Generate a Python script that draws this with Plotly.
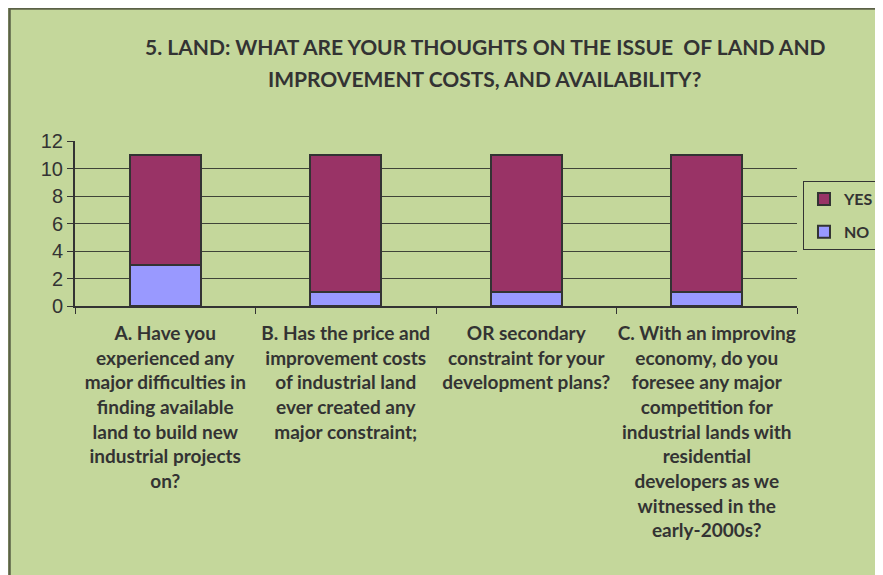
import plotly.graph_objects as go

# survey questions (x categories)
questions = ["A", "B", "OR", "C"]
question_text = [
    "A. Have you<br>experienced any<br>major difficulties in<br>finding available<br>land to build new<br>industrial projects<br>on?",
    "B. Has the price and<br>improvement costs<br>of industrial land<br>ever created any<br>major constraint;",
    "OR secondary<br>constraint for your<br>development plans?",
    "C. With an improving<br>economy, do you<br>foresee any major<br>competition for<br>industrial lands with<br>residential<br>developers as we<br>witnessed in the<br>early-2000s?",
]
no_counts = [3, 1, 1, 1]
yes_counts = [8, 10, 10, 10]
y_ticks = [0, 2, 4, 6, 8, 10, 12]

bg_green = "#C4D79B"
dark = "#333333"
lbl_font = dict(family="Lato", size=19, color=dark, weight="bold")

fig = go.Figure()
fig.add_trace(go.Bar(x=questions, y=no_counts, name="NO", width=0.393,
                     legendgroup="no", legendrank=2,
                     marker=dict(color="#9999FF", line=dict(color=dark, width=2))))
fig.add_trace(go.Bar(x=questions, y=yes_counts, name="YES", width=0.393,
                     legendgroup="yes", legendrank=1,
                     marker=dict(color="#993366", line=dict(color=dark, width=2))))

# dark edge of the chart area (left and top)
fig.add_shape(type="rect", xref="paper", yref="paper", layer="below",
              x0=-0.0907, x1=1.25, y0=-1.9, y1=1.803,
              fillcolor=bg_green, line=dict(color="#5B6147", width=2.5))

fig.add_annotation(text="5. LAND: WHAT ARE YOUR THOUGHTS ON THE ISSUE  OF LAND AND",
                   xref="paper", yref="paper", x=0.569, y=1.5697, showarrow=False,
                   xanchor="center", yanchor="middle",
                   font=dict(family="Lato", size=21, color=dark, weight="bold"))
fig.add_annotation(text="IMPROVEMENT COSTS, AND AVAILABILITY?",
                   xref="paper", yref="paper", x=0.5676, y=1.3818, showarrow=False,
                   xanchor="center", yanchor="middle",
                   font=dict(family="Lato", size=21, color=dark, weight="bold"))

fig.update_layout(
    width=875, height=567,
    margin=dict(l=67, r=86, t=133, b=269, autoexpand=False),
    barmode="stack",
    paper_bgcolor=bg_green,
    plot_bgcolor="rgba(0,0,0,0)",
    showlegend=True,
    legend=dict(x=1.0083, y=0.7576, xanchor="left", yanchor="top",
                traceorder="grouped", tracegroupgap=9,
                bgcolor="rgba(0,0,0,0)", bordercolor=dark, borderwidth=1,
                font=dict(family="Lato", size=16, color=dark, weight="bold"),
                itemwidth=30),
    xaxis=dict(type="category", tickmode="array", tickvals=questions, ticktext=question_text,
               tickson="boundaries", ticks="outside", ticklen=6, tickcolor=dark, tickwidth=1,
               showline=True, linecolor=dark, linewidth=2, showgrid=False,
               tickfont=lbl_font, tickangle=0, range=[-0.5, 3.5], ticklabelstandoff=9),
    yaxis=dict(range=[0, 12], tickvals=y_ticks, ticks="outside", ticklen=6, tickcolor=dark,
               showline=True, linecolor=dark, linewidth=2,
               showgrid=True, gridcolor="#3F4438", gridwidth=1, zeroline=False,
               tickfont=dict(family="Liberation Sans", size=20, color=dark)),
)

fig.write_html("out.html")
